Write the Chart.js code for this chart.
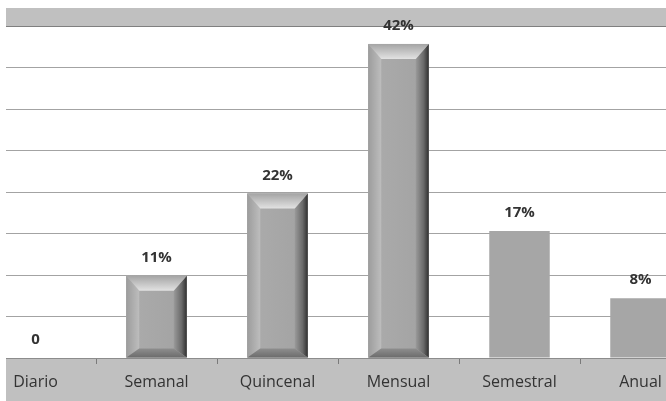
<!DOCTYPE html>
<html lang="es">
<head>
<meta charset="utf-8">
<title>Frecuencia</title>
<script src="https://cdn.jsdelivr.net/npm/chart.js@4/dist/chart.umd.min.js"></script>
<style>
  html, body { margin: 0; padding: 0; background: #fff; overflow: hidden; }
  #marco { position: absolute; left: 6px; top: 0; width: 660px; height: 401px; overflow: hidden; }
  #grafica { position: absolute; left: -31px; top: 0; }
</style>
</head>
<body>
<div id="marco">
  <canvas id="grafica" width="726" height="401"></canvas>
</div>
<script>
const categorias = ['Diario', 'Semanal', 'Quincenal', 'Mensual', 'Semestral', 'Anual'];
const porcentajes = [0, 11, 22, 42, 17, 8];
const maxEje = 44.4;      // tope del eje (16 de 36 respuestas)
const divisiones = 8;     // líneas de división horizontales
const conRelieve = [1, 2, 3]; // barras con bisel

const textoValor = v => v === 0 ? '0' : v + '%';

// Fondo gris de las franjas superior e inferior
const franjas = {
  id: 'franjas',
  beforeDraw(chart) {
    const { ctx, chartArea, width, height } = chart;
    ctx.save();
    ctx.fillStyle = '#c0c0c0';
    ctx.fillRect(0, 8, width, chartArea.top - 8);
    ctx.fillRect(0, chartArea.bottom, width, height - chartArea.bottom);
    ctx.restore();
  }
};

// Bisel de las barras en relieve
const bisel = {
  id: 'bisel',
  afterDatasetsDraw(chart) {
    const ctx = chart.ctx;
    const meta = chart.getDatasetMeta(0);
    meta.data.forEach((bar, i) => {
      if (!conRelieve.includes(i)) return;
      const { x, y, base, width } = bar.getProps(['x', 'y', 'base', 'width'], true);
      const x0 = x - width / 2, x1 = x + width / 2;
      const y0 = y, y1 = base;
      const s = 13, t = 15, b = 9;

      ctx.save();
      // cuerpo
      let g = ctx.createLinearGradient(x0, 0, x1, 0);
      g.addColorStop(0, '#acacac');
      g.addColorStop(1, '#a2a2a2');
      ctx.fillStyle = g;
      ctx.fillRect(x0, y0, width, y1 - y0);

      const cara = (pts, grad) => {
        ctx.beginPath();
        ctx.moveTo(pts[0][0], pts[0][1]);
        pts.slice(1).forEach(p => ctx.lineTo(p[0], p[1]));
        ctx.closePath();
        ctx.fillStyle = grad;
        ctx.fill();
      };

      // izquierda
      g = ctx.createLinearGradient(x0, 0, x0 + s, 0);
      g.addColorStop(0, '#9c9c9c');
      g.addColorStop(1, '#bdbdbd');
      cara([[x0, y0], [x0 + s, y0 + t], [x0 + s, y1 - b], [x0, y1]], g);

      // derecha
      g = ctx.createLinearGradient(x1 - s, 0, x1, 0);
      g.addColorStop(0, '#9a9a9a');
      g.addColorStop(0.6, '#6a6a6a');
      g.addColorStop(1, '#303030');
      cara([[x1, y0], [x1 - s, y0 + t], [x1 - s, y1 - b], [x1, y1]], g);

      // superior
      g = ctx.createLinearGradient(0, y0, 0, y0 + t);
      g.addColorStop(0, '#a4a4a4');
      g.addColorStop(1, '#e2e2e2');
      cara([[x0, y0], [x1, y0], [x1 - s, y0 + t], [x0 + s, y0 + t]], g);

      // inferior
      g = ctx.createLinearGradient(0, y1 - b, 0, y1);
      g.addColorStop(0, '#8e8e8e');
      g.addColorStop(1, '#6c6c6c');
      cara([[x0, y1], [x1, y1], [x1 - s, y1 - b], [x0 + s, y1 - b]], g);

      ctx.restore();
    });
  }
};

// Etiquetas de valor encima de cada barra
const etiquetas = {
  id: 'etiquetas',
  afterDatasetsDraw(chart) {
    const ctx = chart.ctx;
    const meta = chart.getDatasetMeta(0);
    ctx.save();
    ctx.font = 'bold 15px "Open Sans"';
    ctx.fillStyle = '#333';
    ctx.textAlign = 'center';
    ctx.textBaseline = 'middle';
    meta.data.forEach((bar, i) => {
      ctx.fillText(textoValor(porcentajes[i]), bar.x, bar.y - 18);
    });
    ctx.restore();
  }
};

new Chart(document.getElementById('grafica'), {
  type: 'bar',
  data: {
    labels: categorias,
    datasets: [{
      data: porcentajes,
      backgroundColor: '#a6a6a6',
      borderWidth: 0,
      barPercentage: 0.5,
      categoryPercentage: 1
    }]
  },
  options: {
    responsive: false,
    animation: false,
    layout: { padding: { top: 26, left: 0, right: 0, bottom: 0 } },
    plugins: {
      legend: { display: false },
      tooltip: { enabled: false }
    },
    scales: {
      x: {
        afterFit: s => { s.height = 43; },
        border: { color: '#8c8c8c' },
        grid: { drawOnChartArea: false, drawTicks: true, tickLength: 6, color: '#7a7a7a' },
        ticks: {
          color: '#333',
          padding: 9,
          maxRotation: 0,
          autoSkip: false,
          font: { family: 'Open Sans', size: 16 }
        }
      },
      y: {
        min: 0,
        max: maxEje,
        afterFit: s => { s.width = 0; },
        afterBuildTicks: s => {
          s.ticks = Array.from({ length: divisiones + 1 }, (_, i) => ({ value: i * maxEje / divisiones }));
        },
        border: { display: false },
        grid: {
          drawTicks: false,
          color: c => c.index === divisiones ? '#7f7f7f' : '#a3a3a3'
        },
        ticks: { display: false }
      }
    }
  },
  plugins: [franjas, bisel, etiquetas]
});
</script>
</body>
</html>
